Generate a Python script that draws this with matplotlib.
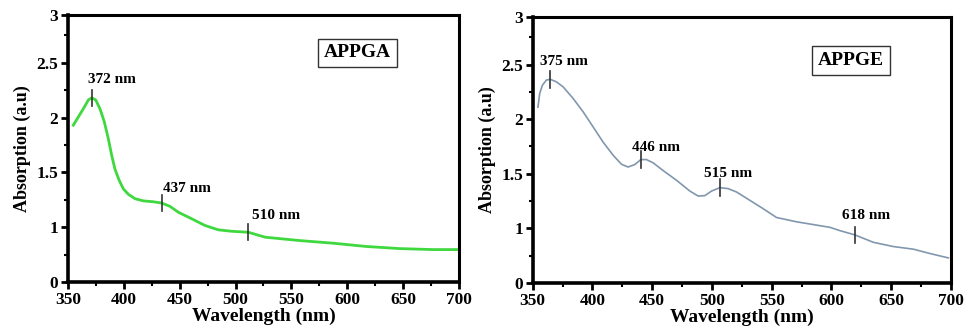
import matplotlib
matplotlib.use("Agg")
import matplotlib.pyplot as plt
from matplotlib.ticker import MultipleLocator, FixedLocator, FixedFormatter

plt.rcParams['font.family'] = ['Liberation Serif', 'DejaVu Serif']

# ---- data (APPGA) ----
wl_a = [354.7, 359.2, 363.7, 368.2, 371.2, 374.8, 378.6, 382.5, 386, 389.1, 392, 395.7,
        399.5, 404, 410, 417.4, 426.4, 433.9, 441.3, 448.7, 460.7, 472.6, 484.6, 496.5,
        511.4, 526.4, 557.7, 587.5, 617.5, 647, 677, 699]
ab_a = [1.93, 2.005, 2.08, 2.16, 2.18, 2.16, 2.08, 1.96, 1.81, 1.655, 1.53, 1.43,
        1.35, 1.30, 1.26, 1.24, 1.232, 1.22, 1.19, 1.137, 1.077, 1.016, 0.976, 0.963,
        0.954, 0.909, 0.878, 0.854, 0.824, 0.805, 0.796, 0.796]
peaks_a = [371.2, 433.9, 511.4]
peak_y_a = [2.18, 1.22, 0.954]
lab_a = ["372 nm", "437 nm", "510 nm"]
lab_xy_a = [(368, 2.35), (435, 1.35), (514.5, 1.105)]

# ---- data (APPGE) ----
wl_e = [354.4, 355.9, 358.1, 361.5, 364.8, 369.8, 375.4, 383.8, 392.2, 400.5, 408.9,
        417.3, 424.3, 429.8, 435.4, 440.5, 445.2, 450.8, 459.1, 470.4, 481.5, 488.5, 494,
        499.7, 506.6, 513.6, 520.6, 531.7, 542.9, 554, 571, 598.7, 607, 619.7, 635, 651.8,
        668.5, 682.5, 697.8]
ab_e = [2.11, 2.236, 2.31, 2.358, 2.364, 2.342, 2.296, 2.19, 2.067, 1.93, 1.79,
        1.67, 1.587, 1.562, 1.584, 1.63, 1.63, 1.60, 1.53, 1.44, 1.342, 1.296, 1.30,
        1.342, 1.373, 1.364, 1.333, 1.257, 1.18, 1.10, 1.06, 1.01, 0.98, 0.94, 0.873, 0.834,
        0.81, 0.77, 0.73]
peaks_e = [364.8, 440.5, 506.6, 619.7]
peak_y_e = [2.364, 1.63, 1.373, 0.94]
lab_e = ["375 nm", "446 nm", "515 nm", "618 nm"]
lab_xy_e = [(356, 2.53), (433.5, 1.74), (493, 1.50), (608.5, 1.12)]

ytick_pos = [0.5, 1, 1.5, 2, 2.5, 2.935]
ytick_lab = ["0", "1", "1.5", "2", "2.5", "3"]
yminor = [0.75, 1.25, 1.75, 2.25, 2.75]
xticks = [350, 400, 450, 500, 550, 600, 650, 700]

fig = plt.figure(figsize=(9.65, 3.33), dpi=100)
ax1 = fig.add_axes([0.0705, 0.153, 0.4051, 0.802])
ax2 = fig.add_axes([0.552, 0.150, 0.4335, 0.799])


def style(ax):
    ax.set_xlim(350, 700)
    ax.set_ylim(0.5, 2.935)
    ax.xaxis.set_major_locator(FixedLocator(xticks))
    ax.set_xticklabels([str(t) for t in xticks])
    ax.xaxis.set_minor_locator(MultipleLocator(25))
    ax.yaxis.set_major_locator(FixedLocator(ytick_pos))
    ax.yaxis.set_major_formatter(FixedFormatter(ytick_lab))
    ax.yaxis.set_minor_locator(FixedLocator(yminor))
    ax.tick_params(which='major', direction='out', length=5, width=2, labelsize=12.5, pad=2)
    ax.tick_params(which='minor', direction='out', length=3, width=1.5)
    for lbl in ax.get_xticklabels() + ax.get_yticklabels():
        lbl.set_fontweight('bold')
    for s in ['left', 'bottom']:
        ax.spines[s].set_linewidth(2.6)
    for s in ['top', 'right']:
        ax.spines[s].set_linewidth(2.2)
    ax.set_xlabel("Wavelength (nm)", fontsize=14, fontweight='bold', labelpad=0)
    ax.set_ylabel("Absorption (a.u)", fontsize=13, fontweight='bold', labelpad=4)


ax1.plot(wl_a, ab_a, color='#3fd83f', lw=2, solid_joinstyle='round')
for x, y in zip(peaks_a, peak_y_a):
    ax1.plot([x, x], [y - 0.075, y + 0.075], color='#333333', lw=1.2)
for t, (x, y) in zip(lab_a, lab_xy_a):
    ax1.text(x, y, t, fontsize=11, fontweight='bold', va='center', ha='left')
ax1.text(0.740, 0.858, "APPGA", transform=ax1.transAxes, fontsize=14, fontweight='bold',
         ha='center', va='center',
         bbox=dict(boxstyle='square,pad=0.3', fc='white', ec='#333333', lw=1))
style(ax1)

ax2.plot(wl_e, ab_e, color='#8197ad', lw=1.2, solid_joinstyle='round')
for x, y in zip(peaks_e, peak_y_e):
    ax2.plot([x, x], [y - 0.075, y + 0.075], color='#333333', lw=1.2)
for t, (x, y) in zip(lab_e, lab_xy_e):
    ax2.text(x, y, t, fontsize=11, fontweight='bold', va='center', ha='left')
ax2.text(0.761, 0.836, "APPGE", transform=ax2.transAxes, fontsize=14, fontweight='bold',
         ha='center', va='center',
         bbox=dict(boxstyle='square,pad=0.3', fc='white', ec='#333333', lw=1))
style(ax2)

fig.savefig("out.png", dpi=100)
